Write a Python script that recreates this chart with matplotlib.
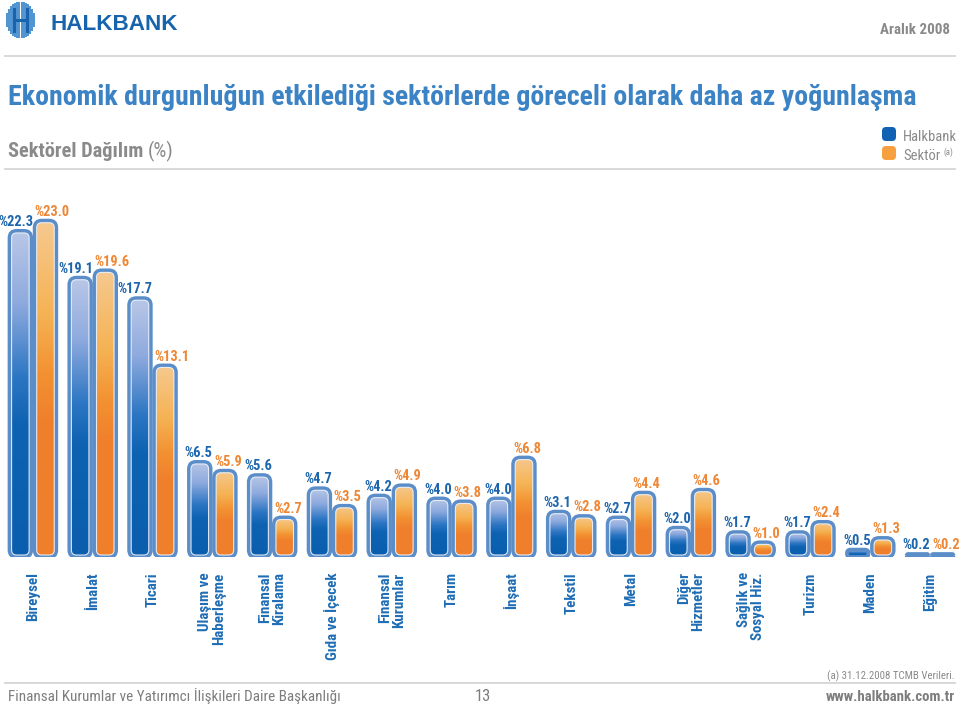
import numpy as np
import matplotlib
matplotlib.use('Agg')
import matplotlib.pyplot as plt
import matplotlib.font_manager as fm
from matplotlib.patches import FancyBboxPatch
from matplotlib.lines import Line2D
from matplotlib.colors import LinearSegmentedColormap

# --- data (%) ---
categories = ['Bireysel', 'İmalat', 'Ticari', 'Ulaşım ve\nHaberleşme', 'Finansal\nKiralama',
              'Gıda ve İçecek', 'Finansal\nKurumlar', 'Tarım', 'İnşaat', 'Tekstil', 'Metal',
              'Diğer\nHizmetler', 'Sağlık ve\nSosyal Hiz.', 'Turizm', 'Maden', 'Eğitim']
halkbank = [22.3, 19.1, 17.7, 6.5, 5.6, 4.7, 4.2, 4.0, 4.0, 3.1, 2.7, 2.0, 1.7, 1.7, 0.5, 0.2]
sektor = [23.0, 19.6, 13.1, 5.9, 2.7, 3.5, 4.9, 3.8, 6.8, 2.8, 4.4, 4.6, 1.0, 2.4, 1.3, 0.2]


# pick a narrow face if one is installed, else a plain sans
def pick_font():
    names = {f.name for f in fm.fontManager.ttflist}
    for p in ['Liberation Sans Narrow', 'Roboto Condensed', 'Noto Sans Condensed',
              'Open Sans Condensed', 'DejaVu Sans Condensed', 'Noto Sans SemiCondensed']:
        if p in names:
            return p, 'normal'
    for f in fm.fontManager.ttflist:
        if 'Condensed' in f.name or 'Narrow' in f.name:
            return f.name, 'normal'
    for f in fm.fontManager.ttflist:
        if str(f.stretch) in ('condensed', 'semi-condensed', 'extra-condensed'):
            return f.name, f.stretch
    return 'Roboto', 'normal'


FONT, STRETCH = pick_font()
plt.rcParams['font.family'] = [FONT, 'Roboto', 'DejaVu Sans']
plt.rcParams['font.stretch'] = STRETCH

W, H = 960, 707
fig = plt.figure(figsize=(W / 100, H / 100), dpi=100)
rend = fig.canvas.get_renderer()

BLUE_TXT = '#1d66ad'
ORANGE_TXT = '#ee8735'
GREY = '#8a8a8a'
EDGE = '#5b8ec9'

blue_cm = LinearSegmentedColormap.from_list('b', [(0, '#b9c7e7'), (0.22, '#8eaade'),
                                                  (0.45, '#2c76c3'), (0.6, '#0d62b2'), (1, '#0b5eae')])
orange_cm = LinearSegmentedColormap.from_list('o', [(0, '#f6c98f'), (0.28, '#f5b253'),
                                                    (0.45, '#f39232'), (0.6, '#f07f2c'), (1, '#f0802c')])


def size_for(s, wpx, **kw):
    # font size that makes string s about wpx pixels wide
    t = fig.text(0, 0, s, fontsize=10, **kw)
    w = t.get_window_extent(rend).width
    t.remove()
    return 10 * wpx / w


def fit(t, wpx):
    w = t.get_window_extent(rend).width
    t.set_fontsize(t.get_fontsize() * wpx / w)
    return t


# axes placed in pixel terms
ax_l, ax_r, ax_t, ax_b = 3, 960, 190, 557
ax = fig.add_axes([ax_l / W, 1 - ax_b / H, (ax_r - ax_l) / W, (ax_b - ax_t) / H])
ymax = 25.1
n = len(categories)
xpu = (ax_r - ax_l) / n
ypu = (ax_b - ax_t) / ymax
aspect = xpu / ypu

bw = 0.36
off = 0.21


def rbar(xc, h, cmap):
    x0 = xc - bw / 2
    hpx = h * ypu
    rpx = min(7.0, bw * xpu / 2, hpx / 2)
    outer = FancyBboxPatch((x0, 0), bw, h, boxstyle='round,pad=0,rounding_size=%f' % (rpx / xpu),
                           mutation_aspect=aspect, fc='none', ec=EDGE, lw=2.8, zorder=4)
    ax.add_patch(outer)
    grad = cmap(np.linspace(0, 1, 120))[:, None, :]
    im = ax.imshow(grad, extent=(x0, x0 + bw, 0, h), aspect='auto', origin='upper',
                   interpolation='bilinear', zorder=3)
    im.set_clip_path(outer)
    if hpx > 8:
        ix, iy = 2.0 / xpu, 2.0 / ypu
        ri = max(rpx - 2.0, 1.0)
        inner = FancyBboxPatch((x0 + ix, iy), bw - 2 * ix, h - 2 * iy,
                               boxstyle='round,pad=0,rounding_size=%f' % (ri / xpu),
                               mutation_aspect=aspect, fc='none', ec='#eef2fa', lw=0.8,
                               alpha=0.9, zorder=5)
        ax.add_patch(inner)


val_fs = size_for('%4.0', 28, fontweight='bold')
cat_fs = size_for('Bireysel', 49, fontweight='bold')

x = np.arange(n)
for i in range(n):
    rbar(x[i] - off, halkbank[i], blue_cm)
    rbar(x[i] + off, sektor[i], orange_cm)
    ax.annotate('%%%.1f' % halkbank[i], xy=(x[i] - off + bw / 2, halkbank[i]), xytext=(1.5, 3.5),
                textcoords='offset points', ha='right', va='baseline', color=BLUE_TXT,
                fontsize=val_fs, fontweight='bold', zorder=6, annotation_clip=False)
    ax.annotate('%%%.1f' % sektor[i], xy=(x[i] + off - bw / 2, sektor[i]), xytext=(0, 3.5),
                textcoords='offset points', ha='left', va='baseline', color=ORANGE_TXT,
                fontsize=val_fs, fontweight='bold', zorder=6, annotation_clip=False)
    ax.annotate(categories[i], xy=(x[i], 0), xytext=(0, -11), textcoords='offset points',
                rotation=90, ha='center', va='top', multialignment='right', linespacing=1.0,
                color='#1f6db5', fontsize=cat_fs, fontweight='bold', annotation_clip=False)

ax.set_xlim(-0.5, n - 0.5)
ax.set_ylim(0, ymax)
ax.axis('off')


# --- header / footer ---
def fy(y):
    return 1 - y / H


for yl in (56, 169, 683):
    fig.add_artist(Line2D([5 / W, 955 / W], [fy(yl), fy(yl)], color='#d6d6d6', lw=1.3))

# logo stripes
lg = fig.add_axes([5 / W, fy(38), 31 / W, 36 / H])
stripe_h = [14, 22, 28, 32, 34, 36, 36, 36, 36, 34, 32, 28, 22, 14]
for k, sh in enumerate(stripe_h):
    lg.plot([k, k], [18 - sh / 2, 18 + sh / 2], color='#4f93cf', lw=1.4, solid_capstyle='butt')
lg.plot([3.5, 3.5], [7, 29], color='#1764ad', lw=2.2)
lg.plot([9.5, 9.5], [7, 29], color='#1764ad', lw=2.2)
lg.plot([3.5, 9.5], [18, 18], color='#1764ad', lw=2.2)
lg.set_xlim(-0.8, len(stripe_h) - 0.2)
lg.set_ylim(0, 36)
lg.axis('off')

fit(fig.text(50 / W, fy(30), 'HALKBANK', family=['Liberation Sans', 'DejaVu Sans'], stretch='normal',
             fontweight='bold', color='#1764ad', fontsize=16, va='baseline'), 128)
fit(fig.text(950 / W, fy(34), 'Aralık 2008', ha='right', va='baseline', color=GREY,
             fontweight='bold', fontsize=12), 70)
fit(fig.text(8 / W, fy(105), 'Ekonomik durgunluğun etkilediği sektörlerde göreceli olarak daha az yoğunlaşma',
             va='baseline', color='#3b83c5', fontweight='bold', fontsize=20), 905)
t1 = fit(fig.text(8 / W, fy(157), 'Sektörel Dağılım', va='baseline', color=GREY,
                  fontweight='bold', fontsize=15), 136)
e1 = t1.get_window_extent(rend)
fig.text((e1.x1 + 4) / W, fy(157), '(%)', va='baseline', color=GREY, fontsize=t1.get_fontsize())

# legend
for yy, c in ((127, '#1262b3'), (146, '#f7a040')):
    fig.add_artist(FancyBboxPatch((882 / W, fy(yy + 14)), 14 / W, 14 / H,
                                  boxstyle='round,pad=0,rounding_size=%f' % (4 / W),
                                  mutation_aspect=W / H, transform=fig.transFigure, fc=c, ec='none'))
leg_fs = min(13, size_for('Halkbank', 54))
fig.text(903 / W, fy(141), 'Halkbank', va='baseline', color=GREY, fontsize=leg_fs)
ts = fig.text(903 / W, fy(160), 'Sektör', va='baseline', color=GREY, fontsize=leg_fs)
es = ts.get_window_extent(rend)
fig.text((es.x1 + 3) / W, fy(155), '(a)', va='baseline', color=GREY, fontsize=leg_fs * 0.6)

fit(fig.text(955 / W, fy(679), '(a) 31.12.2008 TCMB Verileri.', ha='right', va='baseline',
             color=GREY, fontsize=9), 128)
tf = fit(fig.text(8 / W, fy(701), 'Finansal Kurumlar ve Yatırımcı İlişkileri Daire Başkanlığı',
                  va='baseline', color='#7d7d7d', fontsize=13), 330)
fig.text(483 / W, fy(701), '13', ha='center', va='baseline', color='#7d7d7d',
         fontsize=tf.get_fontsize() * 1.1)
fit(fig.text(955 / W, fy(701), 'www.halkbank.com.tr', ha='right', va='baseline',
             color='#7d7d7d', fontweight='bold', fontsize=13), 128)

fig.savefig('out.png', dpi=100)
